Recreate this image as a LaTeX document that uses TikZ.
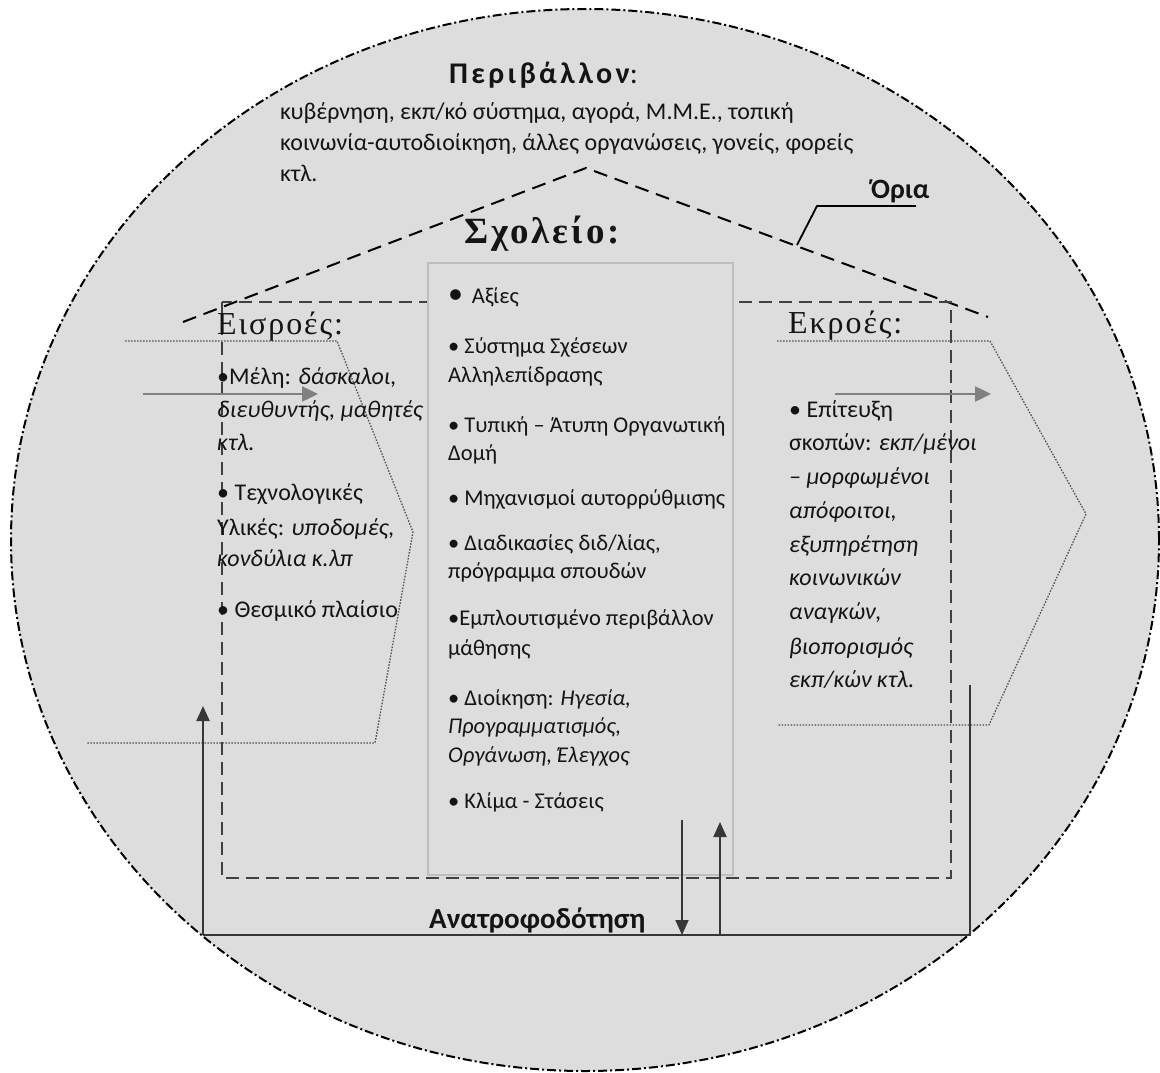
\documentclass[tikz,border=0pt]{standalone}
\usepackage{fontspec}
\setmainfont{Carlito}
\newfontfamily\headsp{Carlito}[LetterSpace=11]
\newfontfamily\grserif{Liberation Serif}[LetterSpace=6]
\newfontfamily\grserifwide{Liberation Serif}[LetterSpace=8]
\usetikzlibrary{arrows.meta}

\definecolor{bg}{RGB}{221,221,221}
\definecolor{ink}{RGB}{20,20,20}
\definecolor{rectdash}{RGB}{64,64,64}
\definecolor{boxedge}{RGB}{190,190,190}
\definecolor{flowgray}{RGB}{128,128,128}
\definecolor{fbline}{RGB}{55,55,55}
\definecolor{dotgray}{RGB}{80,80,80}

\begin{document}
\begin{tikzpicture}[x=1pt,y=-1pt,
  lbl/.style={anchor=base west, inner sep=0pt, text=ink},
  body/.style={lbl, font=\fontsize{24}{28}\selectfont},
  mid/.style={lbl, font=\fontsize{22.5}{28}\selectfont},
  envline/.style={line width=2pt, dash pattern=on 9pt off 3pt on 2pt off 3pt},
  roofline/.style={line width=2pt, dash pattern=on 14pt off 8pt},
  sysline/.style={line width=2pt, draw=rectdash, dash pattern=on 13pt off 7pt},
  flowline/.style={line width=1.3pt, draw=dotgray, dash pattern=on 1.5pt off 1.5pt},
  grayarrow/.style={line width=2.5pt, draw=flowgray, -{Triangle[length=16pt,width=15pt]}},
  fbarrow/.style={line width=2pt, draw=fbline, -{Triangle[length=15pt,width=13pt]}},
  fb/.style={line width=2pt, draw=fbline},
]
\useasboundingbox (0,0) rectangle (1160,1073);

% environment
\draw[envline, fill=bg] (585,540) ellipse [x radius=574pt, y radius=531pt];

% roof of the school
\coordinate (roofL) at (183,322);
\coordinate (roofT) at (586,168);
\coordinate (roofR) at (988,317);
\draw[roofline] (roofL) -- (roofT) -- (roofR);

% system boundary
\draw[sysline] (222,302) rectangle (951,878);

% central box
\draw[line width=2pt, draw=boxedge, fill=bg] (428,263) rectangle (733,875);

% input and output shapes
\draw[flowline] (125,341) -- (337,341) -- (413,532) -- (375,743) -- (87,743);
\draw[flowline] (777,341) -- (990,341) -- (1086,514) -- (989,725) -- (777,725);

% environment title and text
\node[lbl, font=\fontsize{30}{34}\selectfont] (envtitle) at (449,84)
  {{\headsp\bfseries Περιβάλλον}:};
\node[body] (env1) at (280,120) {κυβέρνηση, εκπ/κό σύστημα, αγορά,  Μ.Μ.Ε., τοπική};
\node[body] (env2) at (280,150) {κοινωνία-αυτοδιοίκηση,  άλλες οργανώσεις, γονείς, φορείς};
\node[body] (env3) at (280,181) {κτλ.};

% boundary label
\node[lbl, font=\fontsize{28}{30}\selectfont\bfseries] (orialbl) at (871,198) {Όρια};
\coordinate (oriaA) at (797,245);
\coordinate (oriaB) at (817,206);
\coordinate (oriaC) at (916,206);
\draw[line width=1.8pt] (oriaA) -- (oriaB) -- (oriaC);

% school title
\node[lbl, font=\fontsize{37}{40}\selectfont] (school) at (464,243) {{\grserifwide\bfseries Σχολείο:}};

% inputs
\node[lbl, font=\fontsize{32}{36}\selectfont] (intitle) at (217,334) {{\grserif Εισροές:}};
\node[body] (in1) at (217,384) {•Μέλη: \textit{δάσκαλοι,}};
\node[body] (in2) at (217,417) {\textit{διευθυντής, μαθητές}};
\node[body] (in3) at (217,450) {\textit{κτλ.}};
\node[body] (in4) at (217,500) {• Τεχνολογικές};
\node[body] (in5) at (217,535) {Υλικές: \textit{υποδομές,}};
\node[body] (in6) at (217,566) {\textit{κονδύλια κ.λπ}};
\node[body] (in7) at (217,617) {• Θεσμικό πλαίσιο};

% school components
\node[lbl, font=\fontsize{22.5}{28}\selectfont] (c1) at (448,303) {{\fontsize{30}{30}\selectfont•}\, Αξίες};
\node[mid] (c2) at (448,353) {• Σύστημα Σχέσεων};
\node[mid] (c3) at (448,382) {Αλληλεπίδρασης};
\node[mid] (c4) at (448,432) {• Τυπική – Άτυπη Οργανωτική};
\node[mid] (c5) at (448,460) {Δομή};
\node[mid] (c6) at (448,505) {• Μηχανισμοί αυτορρύθμισης};
\node[mid] (c7) at (448,550) {• Διαδικασίες διδ/λίας,};
\node[mid] (c8) at (448,578) {πρόγραμμα σπουδών};
\node[mid] (c9) at (448,625) {•Εμπλουτισμένο περιβάλλον};
\node[mid] (c10) at (448,655) {μάθησης};
\node[mid] (c11) at (448,705) {• Διοίκηση: \textit{Ηγεσία,}};
\node[mid] (c12) at (448,733) {\textit{Προγραμματισμός,}};
\node[mid] (c13) at (448,762) {\textit{Οργάνωση, Έλεγχος}};
\node[mid] (c14) at (448,808) {• Κλίμα - Στάσεις};

% outputs
\node[lbl, font=\fontsize{32}{36}\selectfont] (outtitle) at (788,333) {{\grserif Εκροές:}};
\node[body] (out1) at (789,417) {• Επίτευξη};
\node[body] (out2) at (789,450) {σκοπών: \textit{εκπ/μένοι}};
\node[body] (out3) at (789,484) {\textit{– μορφωμένοι}};
\node[body] (out4) at (789,518) {\textit{απόφοιτοι,}};
\node[body] (out5) at (789,552) {\textit{εξυπηρέτηση}};
\node[body] (out6) at (789,585) {\textit{κοινωνικών}};
\node[body] (out7) at (789,619) {\textit{αναγκών,}};
\node[body] (out8) at (789,654) {\textit{βιοπορισμός}};
\node[body] (out9) at (789,687) {\textit{εκπ/κών κτλ.}};

% flow arrows
\coordinate (inA) at (143,394);
\coordinate (inB) at (318,394);
\coordinate (outA) at (835,394);
\coordinate (outB) at (991,394);
\draw[grayarrow] (inA) -- (inB);
\draw[grayarrow] (outA) -- (outB);

% feedback loop
\coordinate (fbL) at (203,935);
\coordinate (fbR) at (970,935);
\coordinate (fbLtop) at (203,706);
\coordinate (fbRtop) at (970,685);
\coordinate (dnA) at (682,820);
\coordinate (dnB) at (682,935);
\coordinate (upA) at (720,935);
\coordinate (upB) at (720,822);
\draw[fb] (fbRtop) -- (fbR) -- (fbL);
\draw[fbarrow] (fbL) -- (fbLtop);
\draw[fbarrow] (dnA) -- (dnB);
\draw[fbarrow] (upA) -- (upB);
\node[lbl, font=\fontsize{29}{32}\selectfont\bfseries] (fblbl) at (429,928) {Ανατροφοδότηση};
\end{tikzpicture}
\end{document}
